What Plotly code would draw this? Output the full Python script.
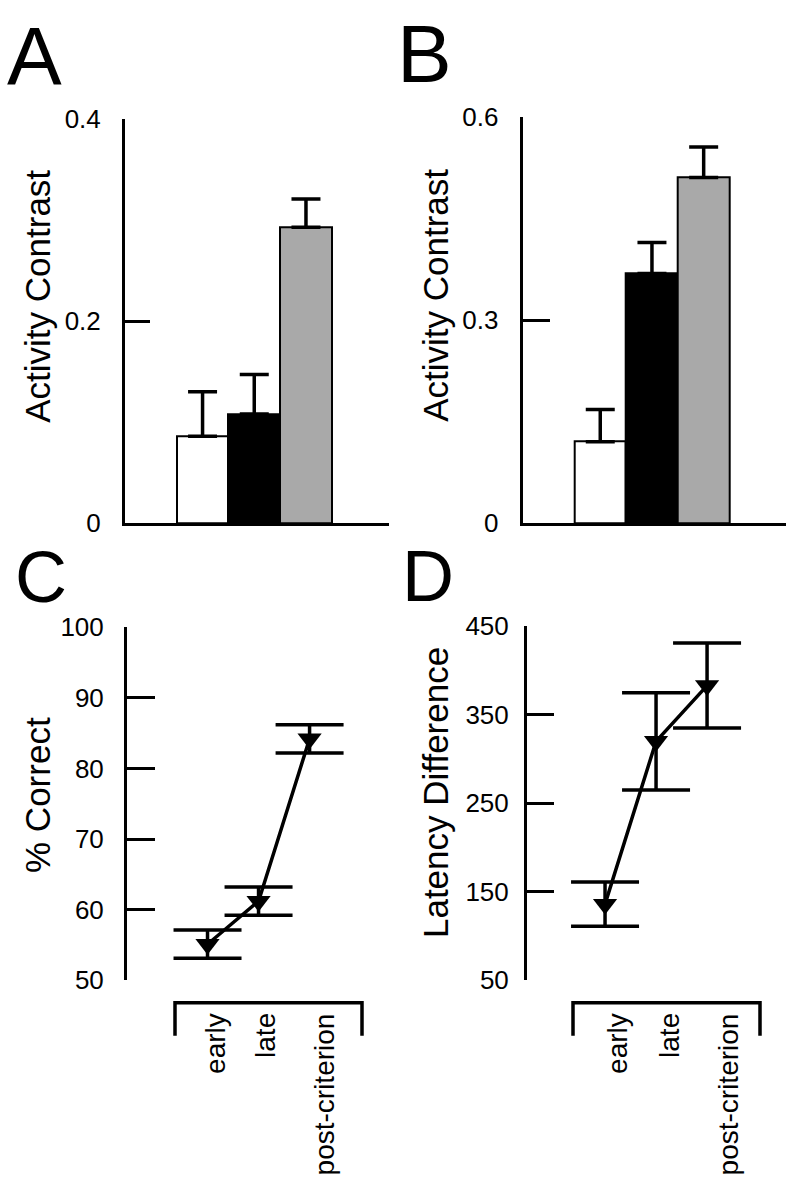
import plotly.graph_objects as go

W, H = 793, 1199

# ---------------- data ----------------
groups = ["early", "late", "post-criterion"]
bar_colors = ["white", "black", "#a9a9a9"]

a_vals = [0.086, 0.108, 0.293]
a_err = [0.044, 0.039, 0.028]
b_vals = [0.120, 0.369, 0.511]
b_err = [0.048, 0.046, 0.045]

c_vals = [55.1, 61.2, 84.2]
c_err = [2.0, 2.0, 2.0]
d_vals = [136, 320, 383]
d_err = [25, 55, 48]

a_ticks = [0, 0.2, 0.4]
a_ticktext = ["0", "0.2", "0.4"]
b_ticks = [0, 0.3, 0.6]
b_ticktext = ["0", "0.3", "0.6"]
c_ticks = [50, 60, 70, 80, 90, 100]
d_ticks = [50, 150, 250, 350, 450]

FONT = "Liberation Sans, Arial, Helvetica, sans-serif"


def px(x):
    return x / W


def py(y):
    return 1 - y / H


fig = go.Figure()

# bars A and B
for xa, ya, vals, errs in (("x", "y", a_vals, a_err), ("x2", "y2", b_vals, b_err)):
    fig.add_trace(go.Bar(x=[0, 1, 2], y=vals, width=1, xaxis=xa, yaxis=ya,
                         marker=dict(color=bar_colors, line=dict(color="black", width=2)),
                         error_y=dict(type="data", symmetric=False, array=errs, arrayminus=[0, 0, 0],
                                      width=14.5, thickness=3.5, color="black"),
                         showlegend=False, hoverinfo="skip"))

# lines C and D
for xa, ya, vals, errs in (("x3", "y3", c_vals, c_err), ("x4", "y4", d_vals, d_err)):
    fig.add_trace(go.Scatter(x=[0, 1, 2], y=vals, xaxis=xa, yaxis=ya, mode="lines+markers",
                             line=dict(color="black", width=3.5),
                             marker=dict(symbol="triangle-down", size=21, color="black"),
                             error_y=dict(type="data", array=errs, width=34, thickness=3.5, color="black"),
                             cliponaxis=False, showlegend=False, hoverinfo="skip"))


def yax(**kw):
    d = dict(showline=True, linewidth=3, linecolor="black", ticks="inside", tickwidth=3,
             tickcolor="black", showgrid=False, zeroline=False,
             tickfont=dict(family=FONT, size=26, color="black"))
    d.update(kw)
    return d


xbar = dict(showline=True, linewidth=3, linecolor="black", showticklabels=False, ticks="",
            showgrid=False, zeroline=False, range=[-1.5, 3.6])

fig.update_layout(
    width=W, height=H, margin=dict(l=0, r=0, t=0, b=0),
    paper_bgcolor="white", plot_bgcolor="rgba(0,0,0,0)", showlegend=False,
    font=dict(family=FONT, color="black"),
    bargap=0,
    # panel A
    xaxis=dict(domain=[px(125), px(388.7)], anchor="y", **xbar),
    yaxis=yax(domain=[py(521), py(107)], range=[0, 0.4], anchor="x", tickvals=a_ticks,
              ticktext=a_ticktext, ticklen=25, ticklabelstandoff=16),
    # panel B
    xaxis2=dict(domain=[px(522.7), px(786.4)], anchor="y2", **xbar),
    yaxis2=yax(domain=[py(521), py(105)], range=[0, 0.6], anchor="x2", tickvals=b_ticks,
               ticktext=b_ticktext, ticklen=27, ticklabelstandoff=16),
    # panel C
    xaxis3=dict(domain=[px(127), px(380)], range=[-1.578, 3.38], anchor="y3", visible=False),
    yaxis3=yax(domain=[py(990), py(628)], range=[50, 100], anchor="x3", tickvals=c_ticks,
               ticklen=28, ticklabelstandoff=15),
    # panel D
    xaxis4=dict(domain=[px(527), px(780)], range=[-1.53, 3.43], anchor="y4", visible=False),
    yaxis4=yax(domain=[py(990), py(627)], range=[50, 450], anchor="x4", tickvals=d_ticks,
               ticklen=27, ticklabelstandoff=10),
)

annotations = []
# panel letters
for txt, x, y, size in (("A", 34.5, 42, 82), ("B", 424, 40, 82), ("C", 41, 576, 72), ("D", 428, 575, 72)):
    annotations.append(dict(text=txt, x=px(x), y=py(y), xref="paper", yref="paper",
                            xanchor="center", yanchor="middle", showarrow=False,
                            font=dict(family=FONT, size=size, color="black")))
# axis titles
for txt, x, y in (("Activity Contrast", 38, 289), ("Activity Contrast", 436, 287),
                  ("% Correct", 38, 800), ("Latency Difference", 435, 798)):
    annotations.append(dict(text=txt, x=px(x), y=py(y), xref="paper", yref="paper",
                            xanchor="center", yanchor="middle", textangle=-90, showarrow=False,
                            font=dict(family=FONT, size=35, color="black")))
# category labels under brackets
for xs in ((216, 266, 324), (618, 670, 728)):
    for g, x in zip(groups, xs):
        annotations.append(dict(text=g, x=px(x), y=py(1022), xref="paper", yref="paper",
                                xanchor="center", yanchor="top", textangle=-90, showarrow=False,
                                font=dict(family=FONT, size=28, color="black")))
fig.update_layout(annotations=annotations)

# brackets
shapes = []
for x0, x1 in ((175, 362), (573, 760)):
    path = "M {a},{b} L {a},{c} L {d},{c} L {d},{b}".format(
        a=px(x0), b=py(1047), c=py(1013), d=px(x1))
    shapes.append(dict(type="path", path=path, xref="paper", yref="paper",
                       line=dict(color="black", width=3.5)))
fig.update_layout(shapes=shapes)

fig.write_html("out.html", config={"displayModeBar": False},
               post_script="document.body.style.margin='0';")
